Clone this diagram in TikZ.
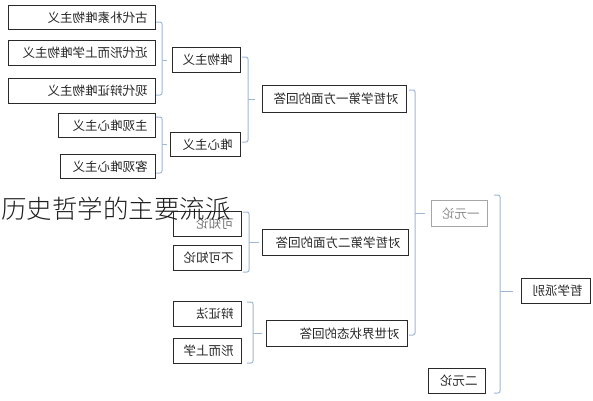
\documentclass[tikz,border=0pt]{standalone}
\usepackage{fontspec}
\usepackage{graphicx}
\setmainfont{Noto Sans CJK SC}
\newfontfamily\thintitle{Noto Sans CJK SC}[UprightFont=* Light]
\usetikzlibrary{positioning}
\definecolor{bracketblue}{HTML}{9DB7D6}
\definecolor{boxline}{HTML}{2A2A2A}
\newcommand{\flip}[1]{\reflectbox{#1}}
\tikzset{
    cbox/.style = {draw=boxline, line width=1.1pt, anchor=north west, inner xsep=8pt, inner ysep=0pt,
                   align=right, text=black!85, font=\fontsize{12.5}{14}\selectfont},
    fadedbox/.style = {cbox, draw=black!35, text=black!45},
    bracket/.style = {draw=bracketblue, line width=1pt, rounded corners=2pt}
}

\begin{document}
\begin{tikzpicture}[x=1pt,y=-1pt]
    \useasboundingbox (0,0) rectangle (593,400);

    % left column
    \node[cbox, text width=131pt, minimum height=24pt] (m1) at (8,5) {\flip{古代朴素唯物主义}};
    \node[cbox, text width=131pt, minimum height=25pt] (m2) at (8,40) {\flip{近代形而上学唯物主义}};
    \node[cbox, text width=131pt, minimum height=25pt] (m3) at (8,78) {\flip{现代辩证唯物主义}};
    \node[cbox, text width=81pt, minimum height=24pt] (i1) at (58,113) {\flip{主观唯心主义}};
    \node[cbox, text width=79pt, minimum height=24pt] (i2) at (60,154) {\flip{客观唯心主义}};

    % second column
    \node[cbox, text width=52pt, minimum height=25pt] (wu) at (172,47) {\flip{唯物主义}};
    \node[cbox, text width=54pt, minimum height=24pt] (xin) at (170,132) {\flip{唯心主义}};
    \node[cbox, text width=52pt, minimum height=25pt, text=black!55] (k1) at (173,211) {\flip{可知论}};
    \node[cbox, text width=52pt, minimum height=25pt] (k2) at (173,245) {\flip{不可知论}};
    \node[cbox, text width=52pt, minimum height=25pt] (d1) at (173,301) {\flip{辩证法}};
    \node[cbox, text width=52pt, minimum height=25pt] (d2) at (173,338) {\flip{形而上学}};

    % third column
    \node[cbox, text width=128pt, minimum height=27pt] (q1) at (262,85) {\flip{对哲学第一方面的回答}};
    \node[cbox, text width=130pt, minimum height=26pt] (q2) at (262,229) {\flip{对哲学第二方面的回答}};
    \node[cbox, text width=125pt, minimum height=26pt] (q3) at (266,320) {\flip{对世界状态的回答}};

    % right part
    \node[fadedbox, text width=40pt, minimum height=26pt] (y1) at (431,200) {\flip{一元论}};
    \node[cbox, text width=41pt, minimum height=25pt] (y2) at (428,368) {\flip{二元论}};
    \node[cbox, text width=53pt, minimum height=25pt] (root) at (521,278) {\flip{哲学派别}};

    % brackets
    \coordinate (s1) at (162,22);  \coordinate (e1) at (162,95);
    \coordinate (s2) at (162,117); \coordinate (e2) at (162,173);
    \coordinate (s3) at (248,57);  \coordinate (e3) at (248,142);
    \coordinate (s4) at (249,212); \coordinate (e4) at (249,272);
    \coordinate (s5) at (253,302); \coordinate (e5) at (253,363);
    \coordinate (s6) at (415,90);  \coordinate (e6) at (415,335);
    \coordinate (s7) at (500,195); \coordinate (e7) at (500,393);

    \foreach \i in {1,...,7}
    {
        \draw[bracket] ([xshift=-6pt]s\i) -- (s\i) -- (e\i) -- ([xshift=-6pt]e\i);
    };
    \draw[bracket] (s1 |- wu.west) -- ([xshift=-5pt]wu.west);
    \draw[bracket] (s2 |- xin.west) -- ([xshift=-3pt]xin.west);
    \draw[bracket] (s3 |- q1.west) -- ([xshift=-7pt]q1.west);
    \draw[bracket] (s4 |- q2.west) -- ([xshift=-3pt]q2.west);
    \draw[bracket] (s5 |- q3.west) -- ([xshift=-4pt]q3.west);
    \draw[bracket] (s6 |- y1.west) -- ([xshift=-6pt]y1.west);
    \draw[bracket] (s7 |- root.west) -- ([xshift=-8pt]root.west);

    % title on top
    \node[anchor=west, inner sep=0pt, text=black!88, font=\thintitle\fontsize{25.5}{28}\selectfont] (title) at (1,209) {历史哲学的主要流派};
\end{tikzpicture}
\end{document}
